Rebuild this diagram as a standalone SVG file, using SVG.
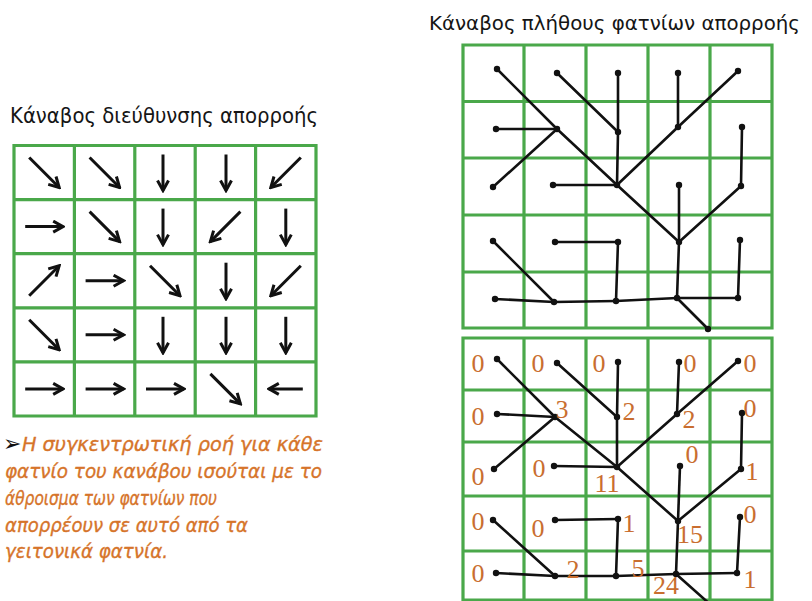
<svg xmlns="http://www.w3.org/2000/svg" width="812" height="601" viewBox="0 0 812 601">
<style>
.title{font-family:"DejaVu Sans","Noto Sans",sans-serif;font-size:21px;fill:#151515}
.para{font-family:"DejaVu Sans","Noto Sans",sans-serif;font-style:italic;font-size:19.5px;fill:#d6742a;stroke:#d6742a;stroke-width:0.35}
.grid{fill:none;stroke:#4aa84a;stroke-width:3.2}
.arr{stroke:#111;stroke-width:3;fill:none;marker-end:url(#ah)}
.con line{stroke:#111;stroke-width:2.6;stroke-linecap:round}
.dot{fill:#111}
.num{font-family:"Liberation Serif","Times New Roman",serif;font-size:26px;fill:#c96e30;text-anchor:middle}
</style>
<defs>
<marker id="ah" viewBox="0 0 14 14" refX="12" refY="7" markerWidth="14" markerHeight="14" markerUnits="userSpaceOnUse" orient="auto">
<path d="M2,1.5 L12,7 L2,12.5" fill="none" stroke="#111" stroke-width="3" stroke-linejoin="miter"/>
</marker>
</defs>
<rect width="812" height="601" fill="#fff"/>

<text class="title" x="10" y="123" textLength="308" lengthAdjust="spacingAndGlyphs">Κάναβος διεύθυνσης απορροής</text>
<text class="title" x="429" y="30" style="font-size:19.5px" textLength="371" lengthAdjust="spacingAndGlyphs">Κάναβος πλήθους φατνίων απορροής</text>

<g id="flow-direction-grid">
<path class="grid" d="M14,145.5H316V416H14Z M74.4,145.5V416 M134.8,145.5V416 M195.2,145.5V416 M255.6,145.5V416 M14,199.6H316 M14,253.7H316 M14,307.8H316 M14,361.9H316"/>
<g id="d11"><line class="arr" x1="29.2" y1="157.5" x2="59.2" y2="187.5"/></g>
<g id="d12"><line class="arr" x1="89.6" y1="157.5" x2="119.6" y2="187.5"/></g>
<g id="d13"><line class="arr" x1="163" y1="154.5" x2="163" y2="190.5"/></g>
<g id="d14"><line class="arr" x1="226" y1="154.5" x2="226" y2="190.5"/></g>
<g id="d15"><line class="arr" x1="300.8" y1="157.5" x2="270.8" y2="187.5"/></g>
<g id="d21"><line class="arr" x1="25.2" y1="226.6" x2="63.2" y2="226.6"/></g>
<g id="d22"><line class="arr" x1="89.6" y1="211.6" x2="119.6" y2="241.6"/></g>
<g id="d23"><line class="arr" x1="163" y1="208.6" x2="163" y2="244.6"/></g>
<g id="d24"><line class="arr" x1="240.4" y1="211.6" x2="210.4" y2="241.6"/></g>
<g id="d25"><line class="arr" x1="285.8" y1="208.6" x2="285.8" y2="244.6"/></g>
<g id="d31"><line class="arr" x1="29.2" y1="295.7" x2="59.2" y2="265.7"/></g>
<g id="d32"><line class="arr" x1="85.6" y1="280.7" x2="123.6" y2="280.7"/></g>
<g id="d33"><line class="arr" x1="150" y1="265.7" x2="180" y2="295.7"/></g>
<g id="d34"><line class="arr" x1="226" y1="262.7" x2="226" y2="298.7"/></g>
<g id="d35"><line class="arr" x1="300.8" y1="265.7" x2="270.8" y2="295.7"/></g>
<g id="d41"><line class="arr" x1="29.2" y1="319.8" x2="59.2" y2="349.8"/></g>
<g id="d42"><line class="arr" x1="85.6" y1="334.8" x2="123.6" y2="334.8"/></g>
<g id="d43"><line class="arr" x1="163" y1="316.8" x2="163" y2="352.8"/></g>
<g id="d44"><line class="arr" x1="226" y1="316.8" x2="226" y2="352.8"/></g>
<g id="d45"><line class="arr" x1="285.8" y1="316.8" x2="285.8" y2="352.8"/></g>
<g id="d51"><line class="arr" x1="25.2" y1="388.9" x2="63.2" y2="388.9"/></g>
<g id="d52"><line class="arr" x1="85.6" y1="388.9" x2="123.6" y2="388.9"/></g>
<g id="d53"><line class="arr" x1="146" y1="388.9" x2="184" y2="388.9"/></g>
<g id="d54"><line class="arr" x1="210.4" y1="373.9" x2="240.4" y2="403.9"/></g>
<g id="d55"><line class="arr" x1="302.8" y1="388.9" x2="268.8" y2="388.9"/></g>
</g>

<g id="paragraph">
<text x="3" y="451" font-family="DejaVu Sans, sans-serif" font-size="22" fill="#111">➢</text>
<text class="para" x="22" y="451" textLength="301" lengthAdjust="spacingAndGlyphs">Η συγκεντρωτική ροή για κάθε</text>
<text class="para" x="5" y="478" textLength="317" lengthAdjust="spacingAndGlyphs">φατνίο του κανάβου ισούται με το</text>
<text class="para" x="5" y="505" textLength="212" lengthAdjust="spacingAndGlyphs">άθροισμα των φατνίων που</text>
<text class="para" x="5" y="532" textLength="243" lengthAdjust="spacingAndGlyphs">απορρέουν σε αυτό από τα</text>
<text class="para" x="5" y="558" textLength="163" lengthAdjust="spacingAndGlyphs">γειτονικά φατνία.</text>
</g>

<path class="grid" d="M463,45H772V328H463Z M524,45V328 M586,45V328 M648,45V328 M710,45V328 M463,101.5H772 M463,158H772 M463,215H772 M463,272H772"/>
<path class="grid" d="M463,338H772V600H463Z M524,338V600 M586,338V600 M648,338V600 M710,338V600 M463,390H772 M463,442H772 M463,496H772 M463,551H772"/>

<g id="connectors" class="con">
<line x1="497" y1="69" x2="557" y2="129"/>
<line x1="557" y1="73" x2="618" y2="132"/>
<line x1="618" y1="73" x2="618" y2="132"/>
<line x1="678" y1="73" x2="678" y2="127"/>
<line x1="738" y1="71" x2="678" y2="127"/>
<line x1="496" y1="129" x2="557" y2="129"/>
<line x1="557" y1="129" x2="617" y2="185"/>
<line x1="618" y1="132" x2="617" y2="185"/>
<line x1="678" y1="127" x2="617" y2="185"/>
<line x1="742" y1="127" x2="741" y2="186"/>
<line x1="493" y1="187" x2="557" y2="129"/>
<line x1="553" y1="185" x2="617" y2="185"/>
<line x1="617" y1="185" x2="679" y2="242"/>
<line x1="679" y1="185" x2="679" y2="242"/>
<line x1="741" y1="186" x2="679" y2="242"/>
<line x1="493" y1="241" x2="554" y2="302"/>
<line x1="555" y1="242" x2="618" y2="242"/>
<line x1="618" y1="242" x2="616" y2="301"/>
<line x1="679" y1="242" x2="677" y2="298"/>
<line x1="740" y1="240" x2="738" y2="298"/>
<line x1="495" y1="299" x2="554" y2="302"/>
<line x1="554" y1="302" x2="616" y2="301"/>
<line x1="616" y1="301" x2="677" y2="298"/>
<line x1="677" y1="298" x2="708" y2="329"/>
<line x1="738" y1="298" x2="677" y2="298"/>

<line x1="497" y1="359" x2="555" y2="417"/>
<line x1="557" y1="363" x2="617" y2="417"/>
<line x1="618" y1="362" x2="617" y2="417"/>
<line x1="679" y1="362" x2="677" y2="414"/>
<line x1="738" y1="361" x2="677" y2="414"/>
<line x1="497" y1="414" x2="555" y2="417"/>
<line x1="555" y1="417" x2="617" y2="467"/>
<line x1="617" y1="417" x2="617" y2="467"/>
<line x1="677" y1="414" x2="617" y2="467"/>
<line x1="742" y1="413" x2="741" y2="469"/>
<line x1="494" y1="469" x2="555" y2="417"/>
<line x1="554" y1="466" x2="617" y2="467"/>
<line x1="617" y1="467" x2="678" y2="521"/>
<line x1="680" y1="466" x2="678" y2="521"/>
<line x1="741" y1="469" x2="678" y2="521"/>
<line x1="493" y1="520" x2="555" y2="576"/>
<line x1="555" y1="520" x2="618" y2="519"/>
<line x1="618" y1="519" x2="616" y2="576"/>
<line x1="678" y1="521" x2="676" y2="574"/>
<line x1="740" y1="517" x2="737" y2="573"/>
<line x1="496" y1="573" x2="555" y2="576"/>
<line x1="555" y1="576" x2="616" y2="576"/>
<line x1="616" y1="576" x2="676" y2="574"/>
<line x1="676" y1="574" x2="712" y2="606"/>
<line x1="737" y1="573" x2="676" y2="574"/>
</g>

<g id="t11"><circle class="dot" cx="497" cy="69" r="3.2"/></g>
<g id="t12"><circle class="dot" cx="557" cy="73" r="3.2"/></g>
<g id="t13"><circle class="dot" cx="618" cy="73" r="3.2"/></g>
<g id="t14"><circle class="dot" cx="678" cy="73" r="3.2"/></g>
<g id="t15"><circle class="dot" cx="738" cy="71" r="3.2"/></g>
<g id="t21"><circle class="dot" cx="496" cy="129" r="3.2"/></g>
<g id="t22"><circle class="dot" cx="557" cy="129" r="3.2"/></g>
<g id="t23"><circle class="dot" cx="618" cy="132" r="3.2"/></g>
<g id="t24"><circle class="dot" cx="678" cy="127" r="3.2"/></g>
<g id="t25"><circle class="dot" cx="742" cy="127" r="3.2"/></g>
<g id="t31"><circle class="dot" cx="493" cy="187" r="3.2"/></g>
<g id="t32"><circle class="dot" cx="553" cy="185" r="3.2"/></g>
<g id="t33"><circle class="dot" cx="617" cy="185" r="3.2"/></g>
<g id="t34"><circle class="dot" cx="679" cy="185" r="3.2"/></g>
<g id="t35"><circle class="dot" cx="741" cy="186" r="3.2"/></g>
<g id="t41"><circle class="dot" cx="493" cy="241" r="3.2"/></g>
<g id="t42"><circle class="dot" cx="555" cy="242" r="3.2"/></g>
<g id="t43"><circle class="dot" cx="618" cy="242" r="3.2"/></g>
<g id="t44"><circle class="dot" cx="679" cy="242" r="3.2"/></g>
<g id="t45"><circle class="dot" cx="740" cy="240" r="3.2"/></g>
<g id="t51"><circle class="dot" cx="495" cy="299" r="3.2"/></g>
<g id="t52"><circle class="dot" cx="554" cy="302" r="3.2"/></g>
<g id="t53"><circle class="dot" cx="616" cy="301" r="3.2"/></g>
<g id="t54"><circle class="dot" cx="677" cy="298" r="3.2"/></g>
<g id="t55"><circle class="dot" cx="738" cy="298" r="3.2"/></g>
<g id="tout"><circle class="dot" cx="708" cy="329" r="3.2"/></g>

<g id="b11"><circle class="dot" cx="497" cy="359" r="3.2"/><text class="num" x="478" y="372">0</text></g>
<g id="b12"><circle class="dot" cx="557" cy="363" r="3.2"/><text class="num" x="538" y="372">0</text></g>
<g id="b13"><circle class="dot" cx="618" cy="362" r="3.2"/><text class="num" x="599" y="372">0</text></g>
<g id="b14"><circle class="dot" cx="679" cy="362" r="3.2"/><text class="num" x="690" y="372">0</text></g>
<g id="b15"><circle class="dot" cx="738" cy="361" r="3.2"/><text class="num" x="750" y="372">0</text></g>
<g id="b21"><circle class="dot" cx="497" cy="414" r="3.2"/><text class="num" x="478" y="425">0</text></g>
<g id="b22"><circle class="dot" cx="555" cy="417" r="3.2"/><text class="num" x="562" y="418">3</text></g>
<g id="b23"><circle class="dot" cx="617" cy="417" r="3.2"/><text class="num" x="629" y="420">2</text></g>
<g id="b24"><circle class="dot" cx="677" cy="414" r="3.2"/><text class="num" x="689" y="428">2</text></g>
<g id="b25"><circle class="dot" cx="742" cy="413" r="3.2"/><text class="num" x="750" y="417">0</text></g>
<g id="b31"><circle class="dot" cx="494" cy="469" r="3.2"/><text class="num" x="478" y="485">0</text></g>
<g id="b32"><circle class="dot" cx="554" cy="466" r="3.2"/><text class="num" x="539" y="477">0</text></g>
<g id="b33"><circle class="dot" cx="617" cy="467" r="3.2"/><text class="num" x="607" y="492">11</text></g>
<g id="b34"><circle class="dot" cx="680" cy="466" r="3.2"/><text class="num" x="692" y="463">0</text></g>
<g id="b35"><circle class="dot" cx="741" cy="469" r="3.2"/><text class="num" x="752" y="480">1</text></g>
<g id="b41"><circle class="dot" cx="493" cy="520" r="3.2"/><text class="num" x="478" y="530">0</text></g>
<g id="b42"><circle class="dot" cx="555" cy="520" r="3.2"/><text class="num" x="538" y="537">0</text></g>
<g id="b43"><circle class="dot" cx="618" cy="519" r="3.2"/><text class="num" x="629" y="532">1</text></g>
<g id="b44"><circle class="dot" cx="678" cy="521" r="3.2"/><text class="num" x="690" y="543">15</text></g>
<g id="b45"><circle class="dot" cx="740" cy="517" r="3.2"/><text class="num" x="750" y="523">0</text></g>
<g id="b51"><circle class="dot" cx="496" cy="573" r="3.2"/><text class="num" x="478" y="582">0</text></g>
<g id="b52"><circle class="dot" cx="555" cy="576" r="3.2"/><text class="num" x="573" y="578">2</text></g>
<g id="b53"><circle class="dot" cx="616" cy="576" r="3.2"/><text class="num" x="638" y="577">5</text></g>
<g id="b54"><circle class="dot" cx="676" cy="574" r="3.2"/><text class="num" x="666" y="594">24</text></g>
<g id="b55"><circle class="dot" cx="737" cy="573" r="3.2"/><text class="num" x="750" y="588">1</text></g>
</svg>
